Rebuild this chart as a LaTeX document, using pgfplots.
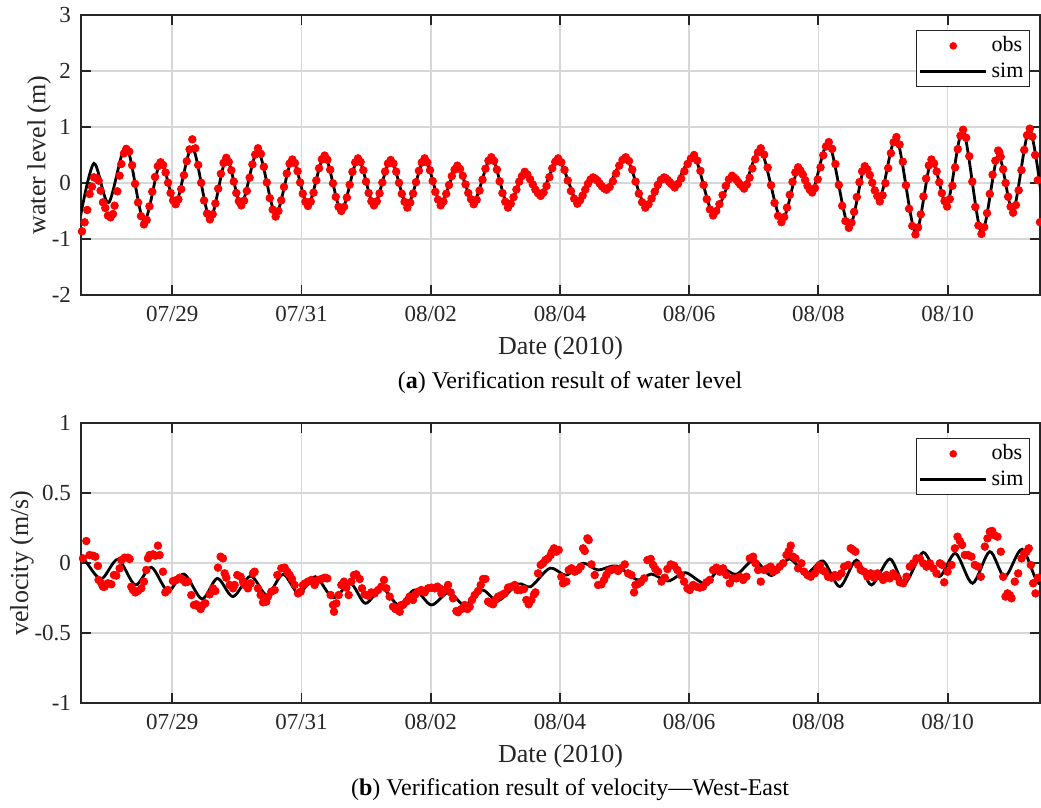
\documentclass[border=0pt]{standalone}
\usepackage{fontspec}
\setmainfont{Liberation Serif}
\usepackage{pgfplots}
\pgfplotsset{compat=1.18}
\definecolor{axgray}{RGB}{38,38,38}
\definecolor{gridgray}{RGB}{215,215,215}
\pgfplotsset{
  panel/.style={
    scale only axis, width=479.5pt, height=140pt,
    xmin=-1.413, xmax=13.43,
    xtick={0,2,4,6,8,10,12},
    xticklabels={07/29,07/31,08/02,08/04,08/06,08/08,08/10},
    grid=major, major grid style={gridgray, line width=0.8pt},
    axis line style={axgray, line width=0.9pt},
    tick style={axgray, line width=0.9pt},
    major tick length=5pt,
    tick align=inside, xtick pos=both, ytick pos=both,
    xticklabel pos=lower, yticklabel pos=left,
    /pgf/number format/assume math mode=true,
    ticklabel style={font=\fontsize{11.5}{13}\selectfont, text=axgray},
    xticklabel style={yshift=-2pt},
    yticklabel style={xshift=-1.5pt},
    label style={font=\fontsize{13}{15}\selectfont, text=axgray},
    xlabel={Date (2010)},
    xlabel style={at={(axis description cs:0.5,-0.189)}, anchor=center},
    legend style={at={(rel axis cs:0.9896,0.946)}, anchor=north east,
      draw=axgray, line width=0.6pt, font=\fontsize{11}{12}\selectfont,
      inner xsep=1pt, inner ysep=1pt, row sep=0pt,
      nodes={inner xsep=2pt, inner ysep=2pt}},
    legend cell align=left,
  },
  obsstyle/.style={only marks, mark=*, mark size=1.9pt, color=red,
    mark options={draw=red, fill=red},
    legend image code/.code={\path[draw=none,fill=none] (0pt,0pt) -- (33pt,0pt); \path[draw=none,fill=red] (16.5pt,0pt) circle (1.9pt);}},
  simstyle/.style={black, line width=1.4pt, smooth, no marks,
    legend image code/.code={\draw[black, line width=1.4pt] (0pt,0pt) -- (33pt,0pt);}},
}
\begin{document}
\begin{tikzpicture}
% ---------------- (a) water level ----------------
\begin{axis}[panel, at={(0pt,0pt)}, anchor=south west,
  ymin=-2, ymax=3, ytick={-2,-1,0,1,2,3},
  ylabel={water level (m)},
  ylabel style={at={(axis description cs:-0.0438,0.5)}, anchor=center},
  after end axis/.code={\node[font=\fontsize{12}{14}\selectfont, text=black] at (axis description cs:0.51,-0.314) {(\textbf{a}) Verification result of water level};}]
\addplot[obsstyle] coordinates {
(-1.398,-0.863) (-1.357,-0.702) (-1.316,-0.482) (-1.280,-0.196) (-1.244,-0.065) (-1.213,0.101) (-1.176,0.089) (-1.140,0.042) (-1.109,-0.137) (-1.073,-0.345) (-1.037,-0.446) (-0.996,-0.583) (-0.955,-0.613) (-0.918,-0.554) (-0.893,-0.405) (-0.851,-0.149) (-0.815,0.131) (-0.789,0.339) (-0.748,0.530)
(-0.712,0.61) (-0.666,0.561) (-0.621,0.317) (-0.576,-0.015) (-0.530,-0.348) (-0.485,-0.591)
(-0.439,-0.74) (-0.396,-0.66) (-0.353,-0.417) (-0.310,-0.155) (-0.267,0.108) (-0.224,0.300)
(-0.181,0.37) (-0.142,0.321) (-0.103,0.187) (-0.065,0.005) (-0.026,-0.178) (0.013,-0.311)
(0.052,-0.38) (0.095,-0.293) (0.138,-0.11) (0.181,0.14) (0.224,0.39) (0.267,0.60)
(0.310,0.78) (0.356,0.62) (0.401,0.322) (0.447,0.005) (0.492,-0.313) (0.538,-0.545)
(0.583,-0.65) (0.625,-0.559) (0.667,-0.365) (0.710,-0.10) (0.752,0.165) (0.794,0.359)
(0.836,0.45) (0.875,0.376) (0.914,0.227) (0.952,0.025) (0.991,-0.178) (1.030,-0.326)
(1.068,-0.40) (1.111,-0.316) (1.154,-0.142) (1.197,0.095) (1.240,0.333) (1.283,0.506)
(1.326,0.62) (1.372,0.52) (1.417,0.29) (1.463,0.01) (1.509,-0.27) (1.554,-0.475)
(1.600,-0.60) (1.643,-0.50) (1.686,-0.31) (1.729,-0.07) (1.772,0.17) (1.815,0.346)
(1.858,0.42) (1.898,0.356) (1.939,0.21) (1.979,0.01) (2.019,-0.19) (2.060,-0.336)
(2.100,-0.41) (2.143,-0.332) (2.186,-0.173) (2.229,0.045) (2.272,0.263) (2.315,0.422)
(2.358,0.49) (2.401,0.415) (2.444,0.238) (2.487,-0.005) (2.530,-0.248) (2.573,-0.425)
(2.616,-0.50) (2.659,-0.428) (2.702,-0.26) (2.745,-0.03) (2.788,0.20) (2.831,0.368)
(2.874,0.44) (2.915,0.376) (2.957,0.228) (2.998,0.025) (3.039,-0.178) (3.081,-0.326)
(3.122,-0.40) (3.165,-0.328) (3.208,-0.185) (3.251,0.01) (3.294,0.205) (3.337,0.348)
(3.380,0.41) (3.423,0.347) (3.466,0.203) (3.509,0.005) (3.552,-0.193) (3.595,-0.337)
(3.638,-0.44) (3.683,-0.35) (3.727,-0.188) (3.772,0.015) (3.817,0.218) (3.861,0.366)
(3.906,0.44) (3.947,0.368) (3.989,0.228) (4.030,0.035) (4.071,-0.158) (4.113,-0.298)
(4.154,-0.40) (4.197,-0.33) (4.240,-0.193) (4.283,-0.035) (4.326,0.123) (4.369,0.238)
(4.412,0.31) (4.454,0.25) (4.496,0.128) (4.539,-0.025) (4.581,-0.178) (4.623,-0.289)
(4.665,-0.38) (4.711,-0.30) (4.756,-0.135) (4.802,0.06) (4.847,0.255) (4.893,0.398)
(4.938,0.46) (4.981,0.394) (5.024,0.24) (5.067,0.03) (5.110,-0.18) (5.153,-0.334)
(5.196,-0.44) (5.239,-0.37) (5.282,-0.253) (5.326,-0.115) (5.369,0.023) (5.412,0.123)
(5.455,0.20) (5.496,0.15) (5.537,0.068) (5.579,-0.025) (5.620,-0.118) (5.661,-0.185)
(5.702,-0.23) (5.747,-0.168) (5.792,-0.053) (5.837,0.105) (5.881,0.263) (5.926,0.378)
(5.971,0.44) (6.021,0.37) (6.071,0.233) (6.121,0.045) (6.170,-0.143) (6.220,-0.28)
(6.270,-0.37) (6.311,-0.31) (6.351,-0.225) (6.392,-0.12) (6.432,-0.015) (6.473,0.062)
(6.513,0.10) (6.547,0.077) (6.582,0.04) (6.616,-0.01) (6.650,-0.06) (6.685,-0.097)
(6.719,-0.12) (6.769,-0.072) (6.819,0.03) (6.869,0.17) (6.918,0.31) (6.968,0.412)
(7.018,0.46) (7.069,0.393) (7.119,0.238) (7.170,0.025) (7.221,-0.188) (7.271,-0.343)
(7.322,-0.44) (7.370,-0.38) (7.418,-0.278) (7.467,-0.155) (7.515,-0.033) (7.563,0.057)
(7.611,0.10) (7.639,0.081) (7.666,0.055) (7.694,0.02) (7.721,-0.015) (7.749,-0.041)
(7.776,-0.08) (7.826,-0.015) (7.876,0.08) (7.926,0.21) (7.976,0.34) (8.026,0.435)
(8.076,0.50) (8.125,0.402) (8.174,0.218) (8.223,-0.035) (8.272,-0.288) (8.321,-0.472)
(8.370,-0.58) (8.419,-0.50) (8.468,-0.378) (8.517,-0.215) (8.566,-0.053) (8.615,0.066)
(8.664,0.13) (8.695,0.098) (8.726,0.065) (8.757,0.02) (8.788,-0.025) (8.819,-0.058)
(8.850,-0.10) (8.893,-0.026) (8.936,0.095) (8.979,0.26) (9.022,0.425) (9.065,0.546)
(9.108,0.62) (9.161,0.506) (9.215,0.275) (9.268,-0.04) (9.321,-0.355) (9.375,-0.586)
(9.428,-0.70) (9.471,-0.608) (9.514,-0.44) (9.557,-0.21) (9.600,0.02) (9.643,0.188)
(9.686,0.28) (9.722,0.223) (9.759,0.15) (9.795,0.05) (9.831,-0.05) (9.868,-0.123)
(9.904,-0.17) (9.947,-0.092) (9.990,0.065) (10.033,0.28) (10.075,0.495) (10.118,0.652)
(10.161,0.73) (10.213,0.61) (10.264,0.338) (10.316,-0.035) (10.368,-0.408) (10.419,-0.68)
(10.471,-0.80) (10.512,-0.709) (10.553,-0.515) (10.595,-0.25) (10.636,0.015) (10.677,0.209)
(10.718,0.30) (10.757,0.243) (10.796,0.143) (10.834,0.005) (10.873,-0.133) (10.912,-0.233)
(10.951,-0.33) (10.994,-0.22) (11.037,-0.003) (11.080,0.265) (11.122,0.533) (11.165,0.728)
(11.208,0.82) (11.257,0.687) (11.306,0.38) (11.355,-0.04) (11.404,-0.46) (11.453,-0.767)
(11.502,-0.92) (11.543,-0.794) (11.585,-0.56) (11.626,-0.24) (11.667,0.08) (11.709,0.314)
(11.750,0.42) (11.790,0.348) (11.831,0.206) (11.871,0.013) (11.911,-0.181) (11.952,-0.323)
(11.992,-0.42) (12.033,-0.288) (12.075,-0.049) (12.116,0.278) (12.157,0.604) (12.199,0.843)
(12.240,0.95) (12.287,0.809) (12.335,0.478) (12.382,0.025) (12.429,-0.428) (12.477,-0.759)
(12.524,-0.91) (12.567,-0.788) (12.610,-0.538) (12.653,-0.195) (12.696,0.148) (12.739,0.398)
(12.782,0.58) (12.800,0.55) (12.821,0.47) (12.859,0.245) (12.898,0.0) (12.937,-0.245) (12.975,-0.424)
(13.014,-0.53) (13.057,-0.394) (13.100,-0.13) (13.143,0.23) (13.186,0.59) (13.229,0.853)
(13.272,0.97) (13.313,0.829) (13.355,0.50) (13.396,0.05) (13.43,-0.70)
};
\addlegendentry{obs}
\addplot[simstyle] coordinates {
(-1.419,-0.58) (-1.213,0.35) (-0.986,-0.35) (-0.712,0.65) (-0.439,-0.68) (-0.181,0.37) (0.052,-0.36) (0.310,0.64) (0.583,-0.63) (0.836,0.43) (1.068,-0.38) (1.326,0.57) (1.600,-0.55) (1.858,0.41) (2.100,-0.39) (2.358,0.48) (2.616,-0.49) (2.874,0.43) (3.122,-0.38) (3.380,0.40) (3.638,-0.39) (3.906,0.42) (4.154,-0.35) (4.412,0.28) (4.665,-0.33) (4.938,0.45) (5.196,-0.39) (5.455,0.16) (5.702,-0.21) (5.971,0.42) (6.270,-0.33) (6.513,0.09) (6.719,-0.11) (7.018,0.45) (7.322,-0.40) (7.611,0.09) (7.776,-0.05) (8.076,0.47) (8.370,-0.54) (8.664,0.11) (8.850,-0.07) (9.108,0.59) (9.428,-0.67) (9.686,0.25) (9.904,-0.15) (10.161,0.71) (10.471,-0.78) (10.718,0.28) (10.951,-0.27) (11.208,0.80) (11.502,-0.88) (11.750,0.40) (11.992,-0.375) (12.240,0.93) (12.524,-0.88) (12.782,0.49) (13.014,-0.49) (13.272,0.95) (13.52,-0.85)
};
\addlegendentry{sim}
\end{axis}
% ---------------- (b) velocity ----------------
\begin{axis}[panel, at={(0pt,-204pt)}, anchor=south west,
  ymin=-1, ymax=1, ytick={-1,-0.5,0,0.5,1},
  ylabel={velocity (m/s)},
  ylabel style={at={(axis description cs:-0.0615,0.5)}, anchor=center},
  after end axis/.code={\node[font=\fontsize{12}{14}\selectfont, text=black] at (axis description cs:0.51,-0.311) {(\textbf{b}) Verification result of velocity---West-East};}]
\addplot[obsstyle] coordinates {
(-1.383,0.033) (-1.331,0.157) (-1.280,0.057) (-1.228,0.052) (-1.192,0.045) (-1.151,-0.021) (-1.140,-0.121) (-1.099,-0.145) (-1.073,-0.169) (-1.047,-0.169) (-0.996,-0.145) (-0.944,-0.152) (-0.903,-0.086) (-0.867,-0.090) (-0.815,-0.038) (-0.789,0.021) (-0.738,0.038) (-0.686,0.038) (-0.660,0.029) (-0.635,-0.169) (-0.609,-0.193) (-0.573,-0.210) (-0.531,-0.200) (-0.480,-0.181) (-0.439,-0.133) (-0.402,-0.050) (-0.377,0.033) (-0.351,0.057) (-0.299,0.062) (-0.263,0.052) (-0.222,0.124) (-0.196,0.057) (-0.144,-0.062) (-0.108,-0.210) (-0.067,-0.193)
(0.010,-0.129) (0.062,-0.121) (0.114,-0.105) (0.165,-0.121) (0.201,-0.138) (0.243,-0.133) (0.294,-0.229) (0.335,-0.300) (0.372,-0.295) (0.408,-0.312) (0.439,-0.329) (0.475,-0.300) (0.511,-0.288) (0.578,-0.224) (0.630,-0.181) (0.666,-0.200) (0.707,-0.033) (0.748,0.045) (0.784,0.033) (0.810,-0.074) (0.836,-0.105) (0.888,-0.157) (0.939,-0.181) (0.965,-0.157)
(1.006,-0.086) (1.058,-0.098) (1.094,-0.133) (1.120,-0.157) (1.171,-0.181) (1.213,-0.145) (1.249,-0.074) (1.274,-0.062) (1.326,-0.181) (1.367,-0.229) (1.404,-0.281) (1.455,-0.276) (1.481,-0.240) (1.533,-0.205) (1.584,-0.193) (1.625,-0.086) (1.687,-0.038) (1.739,-0.033) (1.780,-0.062) (1.816,-0.086) (1.852,-0.114) (1.894,-0.157) (1.945,-0.217) (1.987,-0.205)
(2.023,-0.157) (2.059,-0.145) (2.100,-0.133) (2.152,-0.121) (2.203,-0.157) (2.255,-0.121) (2.306,-0.114) (2.358,-0.105) (2.399,-0.110) (2.451,-0.229) (2.487,-0.300) (2.503,-0.348) (2.539,-0.288) (2.575,-0.229) (2.616,-0.157) (2.657,-0.133) (2.694,-0.176) (2.730,-0.229) (2.771,-0.133) (2.812,-0.086) (2.848,-0.081) (2.900,-0.114) (2.936,-0.181) (2.977,-0.224)
(3.029,-0.233) (3.080,-0.210) (3.132,-0.217) (3.184,-0.193) (3.235,-0.169) (3.277,-0.121) (3.313,-0.181) (3.364,-0.240) (3.416,-0.312) (3.452,-0.329) (3.493,-0.319) (3.545,-0.300)
(3.520,-0.348) (3.571,-0.300) (3.623,-0.276) (3.674,-0.240) (3.726,-0.264) (3.762,-0.224) (3.803,-0.205) (3.855,-0.193) (3.906,-0.210) (3.958,-0.181) (4.010,-0.176) (4.061,-0.181) (4.103,-0.169) (4.139,-0.181) (4.165,-0.217) (4.216,-0.193) (4.268,-0.157) (4.309,-0.210) (4.345,-0.252) (4.397,-0.343) (4.422,-0.352) (4.474,-0.329) (4.526,-0.300) (4.567,-0.329) (4.603,-0.312) (4.639,-0.264) (4.681,-0.229) (4.732,-0.200) (4.774,-0.157) (4.810,-0.114) (4.846,-0.114) (4.887,-0.276) (4.928,-0.288) (4.965,-0.295)
(5.001,-0.264) (5.042,-0.240) (5.094,-0.229) (5.145,-0.217) (5.197,-0.176) (5.248,-0.169) (5.300,-0.157) (5.341,-0.193) (5.393,-0.193) (5.444,-0.186) (5.480,-0.264) (5.516,-0.295) (5.558,-0.264) (5.599,-0.224) (5.620,-0.210) (5.661,-0.074) (5.702,-0.014) (5.738,-0.002) (5.774,0.021) (5.816,0.033) (5.857,0.057) (5.877,0.081) (5.908,0.105) (5.944,0.081) (5.980,0.093)
(6.022,-0.098) (6.048,-0.145) (6.100,-0.133) (6.136,-0.050) (6.177,-0.038) (6.229,-0.062) (6.280,-0.050) (6.322,-0.026) (6.358,0.105) (6.384,0.086) (6.425,0.176) (6.445,0.164) (6.487,-0.010) (6.538,-0.086) (6.590,-0.157) (6.642,-0.152) (6.683,-0.121) (6.719,-0.086) (6.755,-0.057) (6.796,-0.050) (6.848,-0.043) (6.900,-0.057) (6.941,-0.038)
(7.003,-0.010) (7.054,-0.074) (7.106,-0.086) (7.147,-0.210) (7.168,-0.157) (7.199,-0.152) (7.250,-0.138) (7.302,-0.110) (7.354,0.021) (7.405,0.029) (7.441,-0.014) (7.477,-0.043) (7.518,-0.062) (7.570,-0.133) (7.622,-0.105) (7.663,-0.043) (7.715,-0.010) (7.766,-0.019) (7.818,-0.050) (7.870,-0.086) (7.921,-0.133) (7.973,-0.181)
(8.009,-0.193) (8.060,-0.157) (8.112,-0.169) (8.164,-0.176) (8.215,-0.169) (8.267,-0.138) (8.318,-0.121) (8.370,-0.050) (8.422,-0.033) (8.473,-0.062) (8.49,-0.050) (8.525,-0.038) (8.576,-0.086) (8.628,-0.145) (8.680,-0.110) (8.731,-0.110) (8.783,-0.098) (8.835,-0.121) (8.886,-0.098) (8.938,0.033) (8.990,0.045)
(9.026,-0.002) (9.067,-0.050) (9.108,-0.133) (9.160,-0.050) (9.212,-0.038) (9.263,-0.026) (9.299,-0.062) (9.351,-0.050) (9.402,-0.026) (9.454,-0.002) (9.506,0.057) (9.542,0.086) (9.572,0.124) (9.609,0.045) (9.645,0.033) (9.686,-0.038) (9.737,-0.002) (9.779,-0.062) (9.830,-0.086) (9.882,-0.098) (9.944,-0.074) (9.985,-0.038)
(10.021,-0.014) (10.057,-0.050) (10.099,-0.062) (10.150,-0.098) (10.202,-0.105) (10.254,-0.086) (10.305,-0.098) (10.357,-0.074) (10.398,-0.026) (10.460,-0.014) (10.501,0.105) (10.537,0.093) (10.573,0.081) (10.615,-0.014) (10.656,-0.050) (10.708,-0.062) (10.759,-0.098) (10.811,-0.074) (10.863,-0.105) (10.914,-0.074) (10.966,-0.098)
(11.002,-0.121) (11.054,-0.086) (11.105,-0.110) (11.157,-0.074) (11.209,-0.098) (11.260,-0.138) (11.312,-0.145) (11.364,-0.098) (11.415,-0.026) (11.467,-0.002) (11.519,0.033) (11.570,0.033) (11.622,-0.002) (11.673,-0.026) (11.725,-0.002) (11.777,-0.038) (11.828,-0.074) (11.880,-0.002) (11.916,-0.014) (11.947,-0.138) (11.999,-0.062)
(12.060,-0.014) (12.112,0.105) (12.153,0.188) (12.189,0.157) (12.225,0.129) (12.266,0.057) (12.318,0.057) (12.369,0.045) (12.421,-0.014) (12.473,-0.026) (12.514,-0.098) (12.576,0.117) (12.617,0.176) (12.653,0.224) (12.689,0.229) (12.720,0.200) (12.772,0.188) (12.823,0.081) (12.860,-0.098) (12.896,-0.240) (12.927,-0.217) (12.963,-0.229) (12.989,-0.252)
(13.040,-0.133) (13.092,-0.074) (13.144,0.033) (13.185,0.069) (13.221,0.081) (13.257,0.105) (13.288,-0.014) (13.324,-0.145) (13.360,-0.217) (13.401,-0.105)
};
\addlegendentry{obs}
\addplot[simstyle] coordinates {
(-1.419,0.05) (-1.331,0.005) (-1.099,-0.114) (-0.841,0.026) (-0.573,-0.157) (-0.325,-0.031) (-0.067,-0.2) (0.181,-0.079) (0.459,-0.257) (0.697,-0.11) (0.939,-0.24) (1.213,-0.093) (1.465,-0.229) (1.713,-0.081) (1.956,-0.217) (2.214,-0.098) (2.487,-0.248) (2.761,-0.148) (2.988,-0.288) (3.246,-0.181) (3.504,-0.3) (3.752,-0.193) (4.01,-0.3) (4.278,-0.21) (4.526,-0.3) (4.794,-0.193) (5.042,-0.269) (5.352,-0.15) (5.548,-0.169) (5.842,-0.038) (6.1,-0.086) (6.358,-0.002) (6.59,-0.05) (6.874,-0.021) (7.2,-0.121) (7.416,-0.079) (7.674,-0.129) (7.942,-0.069) (8.241,-0.145) (8.489,-0.038) (8.731,-0.081) (9.005,0.021) (9.273,-0.09) (9.547,0.029) (9.815,-0.074) (10.073,0.014) (10.331,-0.169) (10.589,0.021) (10.821,-0.157) (11.105,0.029) (11.337,-0.145) (11.621,0.076) (11.869,-0.098) (12.121,0.069) (12.385,-0.145) (12.652,0.081) (12.885,-0.098) (13.153,0.098) (13.411,-0.145) (13.6,0.05)
};
\addlegendentry{sim}
\end{axis}
\pgfresetboundingbox
\path[use as bounding box] (-40.5pt,-256.5pt) rectangle (480pt,147.5pt);
\end{tikzpicture}
\end{document}
